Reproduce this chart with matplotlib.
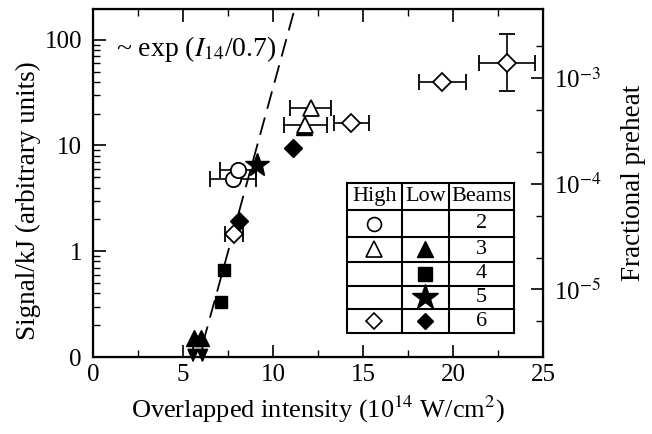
import numpy as np
import matplotlib
matplotlib.use("Agg")
import matplotlib.pyplot as plt
from matplotlib.ticker import FixedLocator, FuncFormatter, LogLocator, NullFormatter

plt.rcParams['font.family'] = ['Liberation Serif', 'DejaVu Serif']
plt.rcParams['mathtext.fontset'] = 'stix'

# high-intensity points (open symbols)
circ_x = [7.78, 8.05]
circ_y = [4.8, 5.9]
circ_xerr = [1.3, 1.0]

tri_open_x = [11.8, 12.1]
tri_open_y = [15.6, 22.4]
tri_open_xerr = [1.2, 1.15]

dia_open_x = [7.82, 14.35, 19.4, 23.0]
dia_open_y = [1.45, 16.3, 39.5, 60.0]
dia_open_xerr = [0.5, 0.97, 1.3, 1.55]
dia_open_ylo = [0, 0, 0, 27]
dia_open_yhi = [0, 0, 0, 52]

# low-intensity points (filled symbols)
tri_fill_x = [5.6, 6.0, 11.75]
tri_fill_y = [0.15, 0.15, 15.0]
sq_x = [7.13, 7.28]
sq_y = [0.33, 0.67]
star_x = [9.1]
star_y = [6.5]
dia_fill_x = [8.1, 11.1]
dia_fill_y = [1.95, 9.5]

# upper limits
lim_x = [5.56, 6.08]
lim_top = 0.14
lim_bot = 0.088

# fit ~ exp(I/0.7)
fit_scale = 0.7
fit_logA = -4.66
fit_range = [6.1, 11.6]

preheat_factor = 2.3e-5
ylim = (0.1, 195)

fig = plt.figure(figsize=(6.52, 4.34), dpi=100)
ax = fig.add_axes([0.1426, 0.1774, 0.6902, 0.8019])
ax.set_yscale('log')
ax.set_xlim(0, 25)
ax.set_ylim(*ylim)

fx = np.array(fit_range)
fy = 10 ** fit_logA * np.exp(fx / fit_scale)
ax.plot(fx, fy, color='black', lw=1.3, dashes=(10, 5), zorder=1)

ebkw = dict(ecolor='black', elinewidth=1.2, capsize=6, capthick=1.2, ls='none')
ax.errorbar(tri_fill_x, tri_fill_y, fmt='^', ms=11, mfc='black', mec='black', zorder=2, **ebkw)
ax.errorbar(circ_x, circ_y, xerr=circ_xerr, fmt='o', ms=11, mfc='white', mec='black', mew=1.3, zorder=3, **ebkw)
ax.errorbar(tri_open_x, tri_open_y, xerr=tri_open_xerr, fmt='^', ms=12, mfc='white', mec='black', mew=1.3, zorder=3, **ebkw)
ax.errorbar(dia_open_x, dia_open_y, xerr=dia_open_xerr, yerr=[dia_open_ylo, dia_open_yhi],
            fmt='D', ms=9, mfc='white', mec='black', mew=1.3, zorder=3, **ebkw)
ax.plot(sq_x, sq_y, 's', ms=9, color='black', zorder=4)
ax.plot(star_x, star_y, '*', ms=18, color='black', zorder=4)
ax.plot(dia_fill_x, dia_fill_y, 'D', ms=9, color='black', zorder=4)

for x in lim_x:
    ax.annotate('', xy=(x, lim_bot), xytext=(x, lim_top),
                arrowprops=dict(arrowstyle='-|>,head_length=0.8,head_width=0.35', color='black',
                                lw=1.3, mutation_scale=10, shrinkA=0, shrinkB=0),
                annotation_clip=False, zorder=5)

ax.text(1.3, 81, r'~ exp ($I_{14}$/0.7)', fontsize=20, va='center')

# axes styling
for s in ax.spines.values():
    s.set_linewidth(1.6)
ax.xaxis.set_major_locator(FixedLocator([0, 5, 10, 15, 20, 25]))
ax.xaxis.set_minor_locator(FixedLocator([2.5, 7.5, 12.5, 17.5, 22.5]))
ax.yaxis.set_major_locator(FixedLocator([0.1, 1, 10, 100]))
ax.yaxis.set_major_formatter(FuncFormatter(lambda v, p: {0.1: '0', 1: '1', 10: '10', 100: '100'}.get(round(v, 1), '')))
ax.yaxis.set_minor_locator(LogLocator(base=10, subs=np.arange(2, 10)))
ax.yaxis.set_minor_formatter(NullFormatter())
ax.tick_params(axis='x', which='both', direction='in', top=True, labelsize=18, pad=5)
ax.tick_params(axis='y', which='both', direction='in', right=False, labelsize=18, pad=8)
ax.tick_params(which='major', length=9, width=1.2)
ax.tick_params(which='minor', length=5, width=1.0)
ax.set_xlabel('Overlapped intensity (10$^{14}$ W/cm$^{2}$)', fontsize=19, labelpad=6)
ax.set_ylabel('Signal/kJ (arbitrary units)', fontsize=19.5)
ax.yaxis.set_label_coords(-0.115, 0.45)

ax2 = ax.twinx()
ax2.set_yscale('log')
ax2.set_ylim(ylim[0] * preheat_factor, ylim[1] * preheat_factor)
ax2.yaxis.set_major_locator(FixedLocator([1e-5, 1e-4, 1e-3]))
ax2.yaxis.set_major_formatter(FuncFormatter(lambda v, p: r'10$^{%d}$' % round(np.log10(v))))
ax2.yaxis.set_minor_locator(LogLocator(base=10, subs=[2, 5]))
ax2.yaxis.set_minor_formatter(NullFormatter())
ax2.tick_params(axis='y', which='both', direction='in', labelsize=18, pad=8)
ax2.tick_params(which='major', length=9, width=1.2)
ax2.tick_params(which='minor', length=5, width=1.0)
ax2.set_ylabel('Fractional preheat', fontsize=19.5, labelpad=14)

# symbol table
tx = [0.5644, 0.686, 0.7918, 0.9356]
ty = [0.5009, 0.4224, 0.344, 0.2739, 0.2049, 0.1371, 0.0698]
tkw = dict(transform=ax.transAxes, color='black', lw=1.5, clip_on=False, zorder=6)
ax.fill([tx[0], tx[-1], tx[-1], tx[0]], [ty[0], ty[0], ty[-1], ty[-1]], color='white',
        transform=ax.transAxes, zorder=5)
for xv in tx:
    ax.plot([xv, xv], [ty[0], ty[-1]], **tkw)
for yv in ty:
    ax.plot([tx[0], tx[-1]], [yv, yv], **tkw)

headers = ['High', 'Low', 'Beams']
beams = ['2', '3', '4', '5', '6']
high_sym = [('o', 10), ('^', 11), None, None, ('D', 8)]
low_sym = [None, ('^', 11), ('s', 10), ('*', 19), ('D', 8)]
cx = [(tx[i] + tx[i + 1]) / 2 for i in range(3)]
cy = [(ty[i] + ty[i + 1]) / 2 for i in range(6)]
for i, h in enumerate(headers):
    ax.text(cx[i], cy[0], h, fontsize=16, ha='center', va='center', transform=ax.transAxes, zorder=7)
for r in range(5):
    ax.text(cx[2], cy[r + 1], beams[r], fontsize=16, ha='center', va='center', transform=ax.transAxes, zorder=7)
    if high_sym[r]:
        m, ms = high_sym[r]
        ax.plot([cx[0]], [cy[r + 1]], m, ms=ms, mfc='white', mec='black', mew=1.2,
                transform=ax.transAxes, clip_on=False, zorder=7)
    if low_sym[r]:
        m, ms = low_sym[r]
        ax.plot([cx[1]], [cy[r + 1]], m, ms=ms, color='black',
                transform=ax.transAxes, clip_on=False, zorder=7)

fig.savefig('out.png', dpi=100)
